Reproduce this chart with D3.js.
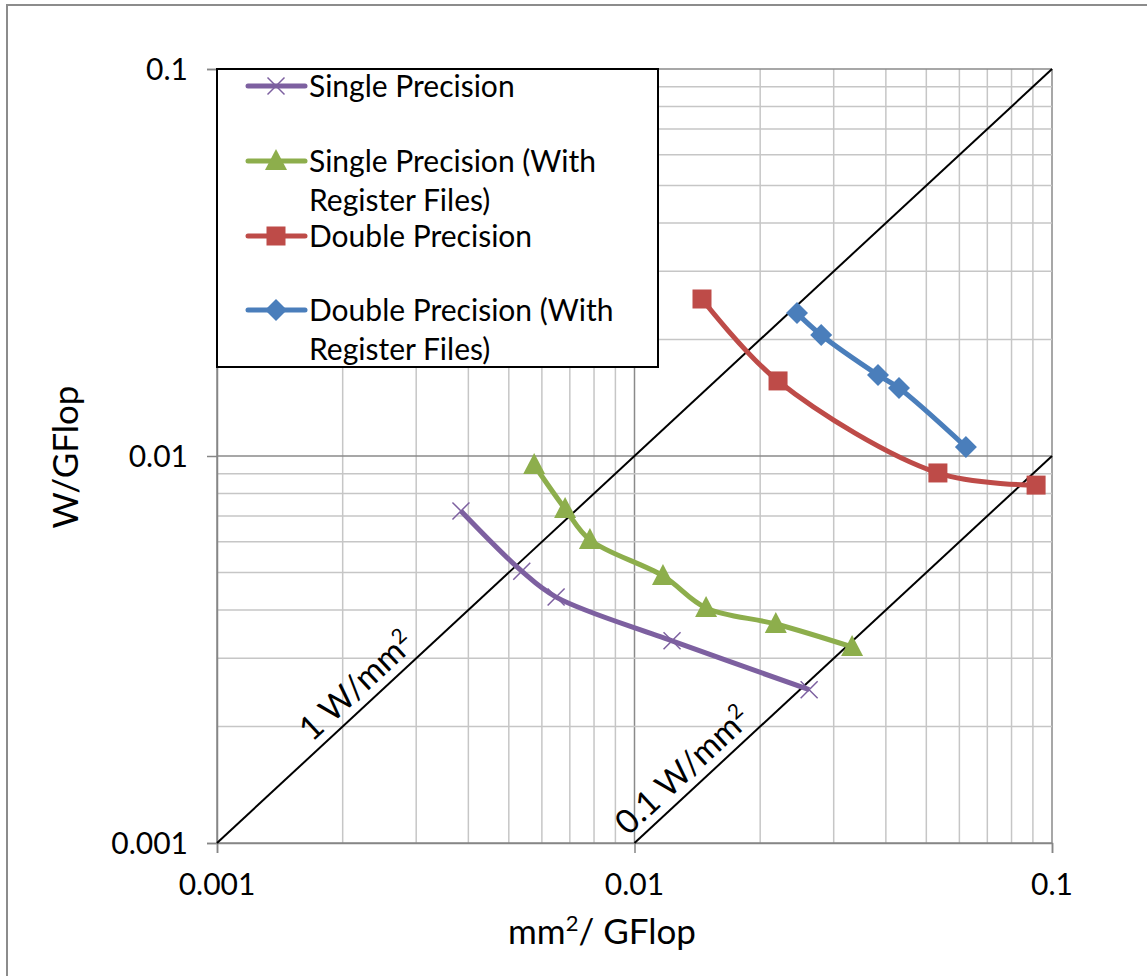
<!DOCTYPE html>
<html lang="en">

<head>
    <meta charset="UTF-8">
    <title>W/GFlop vs mm2/GFlop</title>
    <script src="https://cdn.jsdelivr.net/npm/d3@7"></script>
    <style>
        body { margin: 0; background: #fff; }
        text { font-family: Lato, "Open Sans", sans-serif; fill: #000; }
    </style>
</head>

<body>
    <svg id="main" width="1147" height="976"></svg>
    <script>
        // data (x = mm2/GFlop, y = W/GFlop)
        const spX = [0.00384, 0.00537, 0.00649, 0.0123, 0.0262];
        const spY = [0.00721, 0.00504, 0.00432, 0.00333, 0.00249];

        const sprfX = [0.00575, 0.00682, 0.00782, 0.0117, 0.01484, 0.0218, 0.0332];
        const sprfY = [0.00948, 0.00730, 0.00607, 0.00490, 0.00405, 0.00368, 0.00321];

        const dpX = [0.01451, 0.02207, 0.0533, 0.0916];
        const dpY = [0.02545, 0.01563, 0.00904, 0.00841];

        const dprfX = [0.0245, 0.0280, 0.0383, 0.0430, 0.0622];
        const dprfY = [0.0234, 0.02054, 0.01619, 0.01498, 0.01055];

        const xTickLabels = ['0.001', '0.01', '0.1'];
        const yTickLabels = ['0.001', '0.01', '0.1'];
        const powerLines = [1, 0.1]; // W/mm2

        const series = [
            { name: ['Single Precision'], xs: spX, ys: spY, color: '#7D60A0', marker: 'x' },
            { name: ['Single Precision (With', 'Register Files)'], xs: sprfX, ys: sprfY, color: '#8DAE4C', marker: 'tri' },
            { name: ['Double Precision'], xs: dpX, ys: dpY, color: '#BE4B48', marker: 'sq' },
            { name: ['Double Precision (With', 'Register Files)'], xs: dprfX, ys: dprfY, color: '#4A7EBB', marker: 'dia' }
        ];

        const svg = d3.select('#main');
        const plotL = 217, plotR = 1052, plotT = 69, plotB = 843;

        const x = d3.scaleLog().domain([0.001, 0.1]).range([plotL, plotR]);
        const y = d3.scaleLog().domain([0.001, 0.1]).range([plotB, plotT]);

        // outer chart frame
        svg.append('rect')
            .attr('x', 7).attr('y', 5)
            .attr('width', 1160).attr('height', 1000)
            .attr('fill', 'none').attr('stroke', '#8c8c8c').attr('stroke-width', 2);

        const isMajor = v => Math.abs(Math.log10(v) - Math.round(Math.log10(v))) < 1e-6;

        // grid
        const grid = svg.append('g');
        x.ticks().forEach(v => {
            grid.append('line')
                .attr('x1', x(v)).attr('x2', x(v)).attr('y1', plotT).attr('y2', plotB)
                .attr('stroke', isMajor(v) ? '#8a8a8a' : '#c6c6c6').attr('stroke-width', 1.5);
        });
        y.ticks().forEach(v => {
            grid.append('line')
                .attr('y1', y(v)).attr('y2', y(v)).attr('x1', plotL).attr('x2', plotR)
                .attr('stroke', isMajor(v) ? '#8a8a8a' : '#c6c6c6').attr('stroke-width', 1.5);
        });

        // axes
        const xAxis = d3.axisBottom(x).tickValues(xTickLabels.map(Number)).tickSize(10).tickFormat('');
        const yAxis = d3.axisLeft(y).tickValues(yTickLabels.map(Number)).tickSize(10).tickFormat('');
        svg.append('g').attr('transform', `translate(0,${plotB})`).call(xAxis)
            .call(g => g.selectAll('path,line').attr('stroke', '#868686').attr('stroke-width', 1.5));
        svg.append('g').attr('transform', `translate(${plotL},0)`).call(yAxis)
            .call(g => g.selectAll('path,line').attr('stroke', '#868686').attr('stroke-width', 1.5));

        xTickLabels.forEach(t => {
            svg.append('text').attr('x', x(+t)).attr('y', 895)
                .attr('text-anchor', 'middle').attr('font-size', 30).text(t);
        });
        yTickLabels.forEach(t => {
            svg.append('text').attr('x', 188).attr('y', y(+t)).attr('dy', '0.35em')
                .attr('text-anchor', 'end').attr('font-size', 30).text(t);
        });

        // axis titles
        const xt = svg.append('text').attr('x', 602).attr('y', 944)
            .attr('text-anchor', 'middle').attr('font-size', 35);
        xt.append('tspan').text('mm');
        xt.append('tspan').attr('dy', -13).attr('font-size', 22).text('2');
        xt.append('tspan').attr('dy', 13).text('/ GFlop');

        svg.append('text').attr('transform', 'translate(78,457) rotate(-90)')
            .attr('text-anchor', 'middle').attr('font-size', 35).text('W/GFlop');

        // constant power density lines: W/GFlop = p * mm2/GFlop
        powerLines.forEach(p => {
            const x0 = Math.max(0.001, 0.001 / p), x1 = Math.min(0.1, 0.1 / p);
            svg.append('line')
                .attr('x1', x(x0)).attr('y1', y(x0 * p))
                .attr('x2', x(x1)).attr('y2', y(x1 * p))
                .attr('stroke', '#000').attr('stroke-width', 2);
        });
        const ang = -Math.atan((plotB - plotT) / (plotR - plotL)) * 180 / Math.PI;
        function powerLabel(px, p, label) {
            const t = svg.append('text')
                .attr('transform', `translate(${x(px)},${y(px * p)}) rotate(${ang})`)
                .attr('y', -9).attr('text-anchor', 'middle').attr('font-size', 33.5);
            t.append('tspan').text(label);
            t.append('tspan').attr('dy', -12).attr('font-size', 21).text('2');
        }
        powerLabel(0.00233, 1, '1 W/mm');
        powerLabel(0.01408, 0.1, '0.1 W/mm');

        // markers
        function drawMarker(g, m, cx, cy, color) {
            if (m === 'x') {
                const s = 8.5;
                g.append('path').attr('d', `M${cx - s},${cy - s}L${cx + s},${cy + s}M${cx - s},${cy + s}L${cx + s},${cy - s}`)
                    .attr('stroke', color).attr('stroke-width', 1.5).attr('fill', 'none');
            } else if (m === 'tri') {
                g.append('path').attr('d', `M${cx},${cy - 12}L${cx + 11},${cy + 9}L${cx - 11},${cy + 9}Z`)
                    .attr('fill', color);
            } else if (m === 'sq') {
                g.append('rect').attr('x', cx - 9.5).attr('y', cy - 9.5).attr('width', 19).attr('height', 19)
                    .attr('fill', color);
            } else {
                g.append('path').attr('d', `M${cx},${cy - 11}L${cx + 11},${cy}L${cx},${cy + 11}L${cx - 11},${cy}Z`)
                    .attr('fill', color);
            }
        }

        const line = d3.line().x(d => x(d[0])).y(d => y(d[1])).curve(d3.curveCatmullRom.alpha(0.5));

        series.forEach(s => {
            const pts = s.xs.map((v, i) => [v, s.ys[i]]);
            const g = svg.append('g');
            g.append('path').attr('d', line(pts)).attr('fill', 'none')
                .attr('stroke', s.color).attr('stroke-width', 5).attr('stroke-linejoin', 'round');
            pts.forEach(d => drawMarker(g, s.marker, x(d[0]), y(d[1]), s.color));
        });

        // legend
        const lg = svg.append('g');
        lg.append('rect').attr('x', plotL).attr('y', plotT).attr('width', 441).attr('height', 298)
            .attr('fill', '#fff').attr('stroke', '#000').attr('stroke-width', 2);
        const legendY = [86, 161, 236, 310];
        series.forEach((s, i) => {
            const ly = legendY[i];
            lg.append('line').attr('x1', 248).attr('x2', 305).attr('y1', ly).attr('y2', ly)
                .attr('stroke', s.color).attr('stroke-width', 5).attr('stroke-linecap', 'round');
            drawMarker(lg, s.marker, 276, ly, s.color);
            s.name.forEach((n, j) => {
                lg.append('text').attr('x', 309).attr('y', ly + j * 39).attr('dy', '0.35em')
                    .attr('font-size', 30).text(n);
            });
        });
    </script>
</body>

</html>
